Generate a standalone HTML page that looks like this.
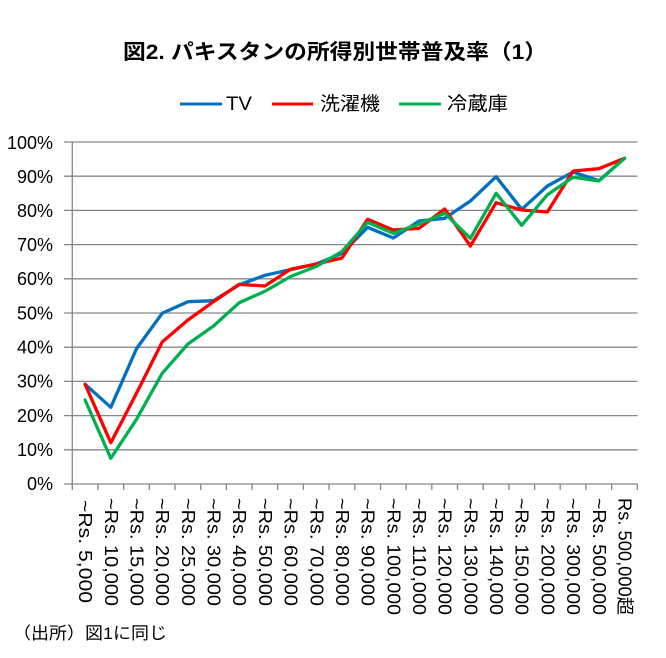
<!DOCTYPE html>
<html><head><meta charset="utf-8">
<style>
html,body{margin:0;padding:0;background:#fff;}
svg{display:block;}
text{font-family:"Liberation Sans","Noto Sans CJK JP",sans-serif;fill:#000;}
</style></head>
<body>
<svg width="666" height="658" viewBox="0 0 666 658" xmlns="http://www.w3.org/2000/svg">
<rect width="666" height="658" fill="#fff"/>
<!-- Title -->
<text x="123" y="59" font-size="21" font-weight="bold" textLength="424" lengthAdjust="spacingAndGlyphs">図2. パキスタンの所得別世帯普及率（1）</text>
<!-- Legend -->
<line x1="180" y1="104" x2="222" y2="104" stroke="#0070C0" stroke-width="3"/>
<text x="226" y="110" font-size="19" textLength="26" lengthAdjust="spacingAndGlyphs">TV</text>
<line x1="272" y1="104" x2="313" y2="104" stroke="#FF0000" stroke-width="3"/>
<text x="320" y="110" font-size="19" textLength="60" lengthAdjust="spacingAndGlyphs">洗濯機</text>
<line x1="399" y1="104" x2="441" y2="104" stroke="#00B050" stroke-width="3"/>
<text x="447" y="110" font-size="19" textLength="61" lengthAdjust="spacingAndGlyphs">冷蔵庫</text>
<!-- Gridlines -->
<g stroke="#868686" stroke-width="1.3">
<line x1="64" y1="142" x2="637.5" y2="142"/>
<line x1="64" y1="176.2" x2="637.5" y2="176.2"/>
<line x1="64" y1="210.4" x2="637.5" y2="210.4"/>
<line x1="64" y1="244.6" x2="637.5" y2="244.6"/>
<line x1="64" y1="278.8" x2="637.5" y2="278.8"/>
<line x1="64" y1="313" x2="637.5" y2="313"/>
<line x1="64" y1="347.2" x2="637.5" y2="347.2"/>
<line x1="64" y1="381.4" x2="637.5" y2="381.4"/>
<line x1="64" y1="415.6" x2="637.5" y2="415.6"/>
<line x1="64" y1="449.8" x2="637.5" y2="449.8"/>
<line x1="64" y1="484" x2="637.5" y2="484"/>
<line x1="72.3" y1="142" x2="72.3" y2="484"/>
</g>
<!-- X ticks -->
<g stroke="#868686" stroke-width="1.3">
<line x1="72.3" y1="484" x2="72.3" y2="490"/>
<line x1="98" y1="484" x2="98" y2="490"/>
<line x1="123.7" y1="484" x2="123.7" y2="490"/>
<line x1="149.3" y1="484" x2="149.3" y2="490"/>
<line x1="175" y1="484" x2="175" y2="490"/>
<line x1="200.7" y1="484" x2="200.7" y2="490"/>
<line x1="226.4" y1="484" x2="226.4" y2="490"/>
<line x1="252.1" y1="484" x2="252.1" y2="490"/>
<line x1="277.7" y1="484" x2="277.7" y2="490"/>
<line x1="303.4" y1="484" x2="303.4" y2="490"/>
<line x1="329.1" y1="484" x2="329.1" y2="490"/>
<line x1="354.8" y1="484" x2="354.8" y2="490"/>
<line x1="380.5" y1="484" x2="380.5" y2="490"/>
<line x1="406.1" y1="484" x2="406.1" y2="490"/>
<line x1="431.8" y1="484" x2="431.8" y2="490"/>
<line x1="457.5" y1="484" x2="457.5" y2="490"/>
<line x1="483.2" y1="484" x2="483.2" y2="490"/>
<line x1="508.9" y1="484" x2="508.9" y2="490"/>
<line x1="534.6" y1="484" x2="534.6" y2="490"/>
<line x1="560.2" y1="484" x2="560.2" y2="490"/>
<line x1="585.9" y1="484" x2="585.9" y2="490"/>
<line x1="611.6" y1="484" x2="611.6" y2="490"/>
<line x1="637.3" y1="484" x2="637.3" y2="490"/>
</g>
<!-- Y labels -->
<g font-size="18" text-anchor="end">
<text x="53" y="149">100%</text>
<text x="53" y="183">90%</text>
<text x="53" y="217">80%</text>
<text x="53" y="251">70%</text>
<text x="53" y="285">60%</text>
<text x="53" y="319.5">50%</text>
<text x="53" y="353.5">40%</text>
<text x="53" y="387.5">30%</text>
<text x="53" y="422">20%</text>
<text x="53" y="456">10%</text>
<text x="53" y="490">0%</text>
</g>
<!-- Series -->
<g fill="none" stroke-width="3.3" stroke-linejoin="round" stroke-linecap="round">
<polyline stroke="#0070C0" points="85.1,384.3 110.8,407.3 136.5,348.7 162.2,313.3 187.9,301.7 213.5,300.7 239.2,284.8 264.9,275.3 290.6,269.6 316.3,264 342,253.3 367.6,227.3 393.3,238 419,221 444.7,218.3 470.4,201 496.1,176.7 521.7,209.3 547.4,186 573.1,172 598.8,180.7 624.5,158.3"/>
<polyline stroke="#FF0000" points="85.1,384.3 110.8,442.7 136.5,393.3 162.2,342 187.9,320 213.5,301.7 239.2,284.3 264.9,286 290.6,269.3 316.3,264 342,258 367.6,219.3 393.3,230 419,228.3 444.7,209 470.4,246 496.1,202.7 521.7,210 547.4,212 573.1,171 598.8,168.7 624.5,158.3"/>
<polyline stroke="#00B050" points="85.1,400 110.8,458.3 136.5,419.3 162.2,373.3 187.9,344 213.5,326 239.2,302.7 264.9,291.3 290.6,276.5 316.3,266.5 342,251.5 367.6,222.3 393.3,233.3 419,224 444.7,213.3 470.4,238.3 496.1,193.3 521.7,225.3 547.4,194.7 573.1,177.3 598.8,181 624.5,158.3"/>
</g>
<!-- X labels -->
<g font-size="18" dominant-baseline="central">
<text transform="translate(85.1,500) rotate(90)" textLength="103" lengthAdjust="spacingAndGlyphs">~Rs. 5,000</text>
<text transform="translate(110.8,498) rotate(90)" textLength="108" lengthAdjust="spacingAndGlyphs">~Rs. 10,000</text>
<text transform="translate(136.5,498) rotate(90)" textLength="108" lengthAdjust="spacingAndGlyphs">~Rs. 15,000</text>
<text transform="translate(162.2,498) rotate(90)" textLength="108" lengthAdjust="spacingAndGlyphs">~Rs. 20,000</text>
<text transform="translate(187.9,498) rotate(90)" textLength="108" lengthAdjust="spacingAndGlyphs">~Rs. 25,000</text>
<text transform="translate(213.5,498) rotate(90)" textLength="108" lengthAdjust="spacingAndGlyphs">~Rs. 30,000</text>
<text transform="translate(239.2,498) rotate(90)" textLength="108" lengthAdjust="spacingAndGlyphs">~Rs. 40,000</text>
<text transform="translate(264.9,498) rotate(90)" textLength="108" lengthAdjust="spacingAndGlyphs">~Rs. 50,000</text>
<text transform="translate(290.6,498) rotate(90)" textLength="108" lengthAdjust="spacingAndGlyphs">~Rs. 60,000</text>
<text transform="translate(316.3,498) rotate(90)" textLength="108" lengthAdjust="spacingAndGlyphs">~Rs. 70,000</text>
<text transform="translate(342,498) rotate(90)" textLength="108" lengthAdjust="spacingAndGlyphs">~Rs. 80,000</text>
<text transform="translate(367.6,498) rotate(90)" textLength="108" lengthAdjust="spacingAndGlyphs">~Rs. 90,000</text>
<text transform="translate(393.3,498) rotate(90)" textLength="117" lengthAdjust="spacingAndGlyphs">~Rs. 100,000</text>
<text transform="translate(419,498) rotate(90)" textLength="117" lengthAdjust="spacingAndGlyphs">~Rs. 110,000</text>
<text transform="translate(444.7,498) rotate(90)" textLength="117" lengthAdjust="spacingAndGlyphs">~Rs. 120,000</text>
<text transform="translate(470.4,498) rotate(90)" textLength="117" lengthAdjust="spacingAndGlyphs">~Rs. 130,000</text>
<text transform="translate(496.1,498) rotate(90)" textLength="117" lengthAdjust="spacingAndGlyphs">~Rs. 140,000</text>
<text transform="translate(521.7,498) rotate(90)" textLength="117" lengthAdjust="spacingAndGlyphs">~Rs. 150,000</text>
<text transform="translate(547.4,498) rotate(90)" textLength="117" lengthAdjust="spacingAndGlyphs">~Rs. 200,000</text>
<text transform="translate(573.1,498) rotate(90)" textLength="117" lengthAdjust="spacingAndGlyphs">~Rs. 300,000</text>
<text transform="translate(598.8,498) rotate(90)" textLength="117" lengthAdjust="spacingAndGlyphs">~Rs. 500,000</text>
<text transform="translate(624.5,498) rotate(90)" textLength="117" lengthAdjust="spacingAndGlyphs">Rs. 500,000超</text>
</g>
<!-- Footer -->
<text x="13" y="639" font-size="17" textLength="154" lengthAdjust="spacingAndGlyphs">（出所）図1に同じ</text>
</svg>
</body></html>
